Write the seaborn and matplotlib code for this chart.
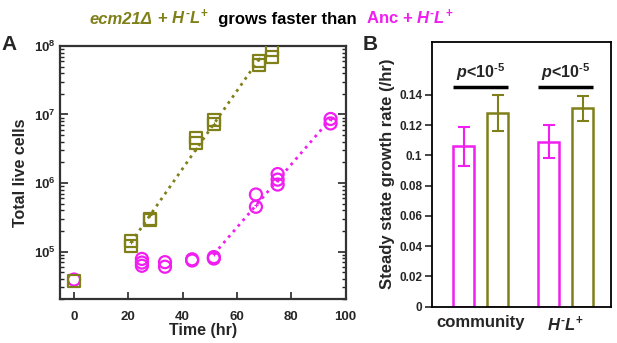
import numpy as np
import pandas as pd
import matplotlib
matplotlib.use("Agg")
import matplotlib.pyplot as plt
import seaborn as sns
from matplotlib.ticker import FuncFormatter, LogLocator, NullFormatter
from matplotlib.offsetbox import TextArea, HPacker, AnchoredOffsetbox

# --- data ---
# panel A: total live cells over time
anc_time = [0, 25, 25, 25, 33.5, 33.5, 43.5, 43.5, 51.5, 51.5, 67, 67, 75, 75, 75, 94.5, 94.5]
anc_cells = [3.9e4, 7.8e4, 6.9e4, 6.2e4, 7.0e4, 6.0e4, 7.7e4, 7.4e4, 8.3e4, 7.9e4,
             6.8e5, 4.5e5, 1.35e6, 1.12e6, 9.5e5, 8.6e6, 7.4e6]
ecm_time = [0, 21, 21, 28, 28, 45, 45, 51.5, 51.5, 68.3, 68.3, 73, 73]
ecm_cells = [3.7e4, 1.42e5, 1.2e5, 3.0e5, 2.9e5, 4.5e6, 3.8e6, 8.2e6, 7.2e6,
             6.0e7, 5.2e7, 8.8e7, 7.0e7]
# time windows used for the exponential fits
anc_fit_window = (51.5, 94.5)
ecm_fit_window = (21, 68.3)

# panel B: steady state growth rates
categories = ["community", "HL"]
strains = ["Anc", "ecm21"]
rates = {"Anc": [0.106, 0.109], "ecm21": [0.128, 0.131]}
rate_err = {"Anc": [0.013, 0.011], "ecm21": [0.012, 0.008]}

HL = "$H^{\u2010}L^{+}$"
pval_text = "$p$<10$^{\u2010 5}$"

OLIVE = "#80801a"
MAGENTA = "#f01ef0"

sns.set_theme(style="white")
plt.rcParams["font.family"] = ["Liberation Sans", "DejaVu Sans"]
plt.rcParams["font.weight"] = "bold"
plt.rcParams["mathtext.fontset"] = "custom"
plt.rcParams["mathtext.rm"] = "Liberation Sans:bold"
plt.rcParams["mathtext.it"] = "Liberation Sans:italic:bold"
plt.rcParams["mathtext.bf"] = "Liberation Sans:bold"

fig = plt.figure(figsize=(6.17, 3.43), dpi=100)
axA = fig.add_axes([0.098, 0.127, 0.462, 0.739])
axB = fig.add_axes([0.700, 0.106, 0.290, 0.772])

# --- panel A ---
dfA = pd.DataFrame({
    "time": anc_time + ecm_time,
    "cells": anc_cells + ecm_cells,
    "strain": ["Anc"] * len(anc_time) + ["ecm21"] * len(ecm_time),
})
for strain, marker, color, window in [("Anc", "o", MAGENTA, anc_fit_window),
                                      ("ecm21", "s", OLIVE, ecm_fit_window)]:
    sub = dfA[dfA.strain == strain]
    sns.scatterplot(data=sub, x="time", y="cells", marker=marker, s=75,
                    facecolor="none", edgecolor=color, linewidth=1.6, ax=axA,
                    legend=False, zorder=3)
    # exponential fit (straight line on log axis)
    fit = sub[(sub.time >= window[0]) & (sub.time <= window[1])]
    k, b = np.polyfit(fit.time, np.log10(fit.cells), 1)
    tt = np.unique(fit.time)
    axA.plot(tt, 10 ** (k * tt + b), ls=":", lw=2, color=color,
             marker="+", ms=3, mew=0.8, zorder=2)

axA.set_yscale("log")
axA.set_xlim(-5, 100)
axA.set_ylim(2e4, 1e8)
axA.set_xticks([0, 20, 40, 60, 80, 100])
axA.yaxis.set_major_locator(LogLocator(base=10, numticks=10))
axA.yaxis.set_minor_locator(LogLocator(base=10, subs=np.arange(2, 10), numticks=20))
axA.yaxis.set_minor_formatter(NullFormatter())
axA.set_yticks([1e5, 1e6, 1e7, 1e8])
axA.tick_params(axis="x", direction="in", length=5, width=1.2, labelsize=9.5,
                bottom=True, top=False, pad=8)
axA.tick_params(axis="y", which="major", direction="in", length=6, width=1.2,
                labelsize=9.5, left=True, right=True)
axA.tick_params(axis="y", which="minor", direction="in", length=3, width=1,
                left=True, right=True)
for sp in axA.spines.values():
    sp.set_linewidth(1.6)
    sp.set_color("#333333")
axA.set_xlabel("Time (hr)", fontsize=11.5, fontweight="bold", labelpad=0)
axA.set_ylabel("Total live cells", fontsize=11.5, fontweight="bold", labelpad=4)

# --- panel B ---
dfB = pd.DataFrame({
    "category": [c for s in strains for c in categories],
    "strain": [s for s in strains for c in categories],
    "rate": [r for s in strains for r in rates[s]],
    "err": [e for s in strains for e in rate_err[s]],
})
sns.barplot(data=dfB, x="category", y="rate", hue="strain", hue_order=strains,
            order=categories, palette={"Anc": MAGENTA, "ecm21": OLIVE},
            fill=False, linewidth=1.8, gap=0.375, errorbar=None, legend=False, ax=axB)
bar_x = {}
for cont, strain in zip(axB.containers, strains):
    for patch, cat in zip(cont, categories):
        bar_x[(strain, cat)] = (patch.get_x(), patch.get_width())
for _, row in dfB.iterrows():
    x0, w = bar_x[(row.strain, row.category)]
    col = MAGENTA if row.strain == "Anc" else OLIVE
    axB.errorbar(x0 + w / 2, row.rate, yerr=row.err, color=col, lw=1.5,
                 capsize=4, capthick=1.5, zorder=3)
# significance bars
for cat in categories:
    xl = bar_x[("Anc", cat)][0]
    xr = bar_x[("ecm21", cat)][0] + bar_x[("ecm21", cat)][1]
    axB.plot([xl, xr], [0.145, 0.145], color="black", lw=2.5, solid_capstyle="butt")
    axB.text((xl + xr) / 2, 0.1475, pval_text, ha="center", va="bottom", fontsize=11.5)

axB.set_ylim(0, 0.175)
axB.set_xlim(-0.576, 1.53)
axB.set_yticks(np.arange(0, 0.141, 0.02))
axB.yaxis.set_major_formatter(FuncFormatter(lambda v, p: f"{v:g}"))
axB.set_xticks([0, 1])
axB.set_xticklabels(["community", HL])
axB.tick_params(axis="y", direction="out", length=5, width=1.2, labelsize=8.5, left=True, pad=2)
axB.tick_params(axis="x", length=0, labelsize=12, pad=6)
for sp in axB.spines.values():
    sp.set_linewidth(1.3)
    sp.set_color("black")
axB.set_xlabel("")
axB.set_ylabel("Steady state growth rate (/hr)", fontsize=12, fontweight="bold", labelpad=3)

# --- title and panel letters ---
parts = [
    ("ecm21Δ", dict(color=OLIVE, style="italic")),
    (" + " + HL, dict(color=OLIVE)),
    ("  grows faster than  ", dict(color="black")),
    ("Anc + " + HL, dict(color=MAGENTA)),
]
boxes = [TextArea(t, textprops=dict(fontsize=12, fontweight="bold", **p)) for t, p in parts]
pack = HPacker(children=boxes, align="baseline", pad=0, sep=0)
anchored = AnchoredOffsetbox(loc="center", child=pack, pad=0, borderpad=0, frameon=False,
                             bbox_to_anchor=(0.44, 1 - 17 / 343),
                             bbox_transform=fig.transFigure)
fig.add_artist(anchored)

fig.text(0.002, 0.869, "A", fontsize=15, fontweight="bold", va="center")
fig.text(0.588, 0.869, "B", fontsize=15, fontweight="bold", va="center")

fig.savefig("out.png", dpi=100)
